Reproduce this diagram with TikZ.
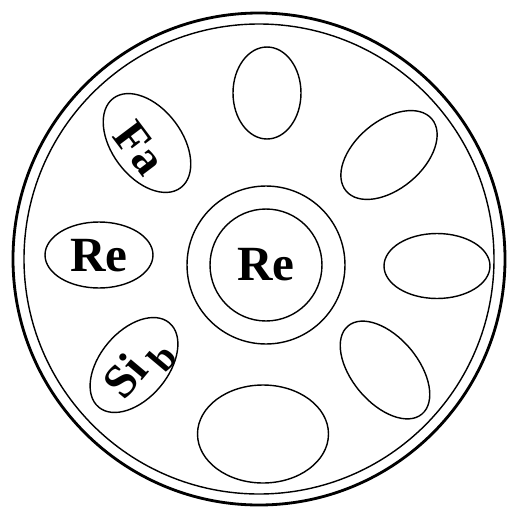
\documentclass[tikz,border=0pt]{standalone}
\usepackage{fontspec}
\setmainfont{Liberation Serif}
\usetikzlibrary{shapes.geometric}
% text that does not stretch its hole
\newcommand{\holetext}[1]{\smash{\makebox[0pt]{\raisebox{-0.34em}{#1}}}}

\begin{document}
\begin{tikzpicture}[x=0.02cm, y=-0.02cm,
    hole/.style={draw, ellipse, line width=0.8pt, inner sep=0pt},
    note/.style={font=\fontsize{27}{30}\selectfont\bfseries},
    bignote/.style={font=\fontsize{28}{32}\selectfont\bfseries}
  ]
  \useasboundingbox (0,0) rectangle (507,511);
  % rim
  \draw[line width=1.6pt] (259,259) circle[radius=246];
  \draw[line width=0.8pt] (259,259) circle[radius=235];
  % centre
  \node[draw, circle, line width=0.8pt, minimum size=3.16cm] (ring) at (266,265) {};
  \node[draw, circle, line width=0.8pt, minimum size=2.24cm, bignote] (ding) at (266,265) {Re};
  % holes round the rim, with their note names
  \node[hole, minimum width=1.36cm, minimum height=1.84cm] (hN) at (267,93) {};
  \node[hole, minimum width=2.24cm, minimum height=1.36cm, rotate=40] (hNE) at (389,155) {};
  \node[hole, minimum width=2.12cm, minimum height=1.30cm] (hE) at (437,266) {};
  \node[hole, minimum width=2.30cm, minimum height=1.32cm, rotate=-50] (hSE) at (385,370) {};
  \node[hole, minimum width=2.62cm, minimum height=1.96cm] (hS) at (263,434) {};
  \node[hole, minimum width=2.20cm, minimum height=1.36cm, rotate=50, note] (hSW) at (134,365)
    {\holetext{Si\hspace{0.15em}\raisebox{-0.3em}{\fontsize{22}{24}\selectfont b}}};
  \node[hole, minimum width=2.16cm, minimum height=1.32cm, bignote] (hW) at (99,255) {\holetext{Re}};
  \node[hole, minimum width=2.24cm, minimum height=1.40cm, rotate=-53, note] (hNW) at (147,143)
    {\holetext{\raisebox{-0.17em}{Fa}}};
\end{tikzpicture}
\end{document}
